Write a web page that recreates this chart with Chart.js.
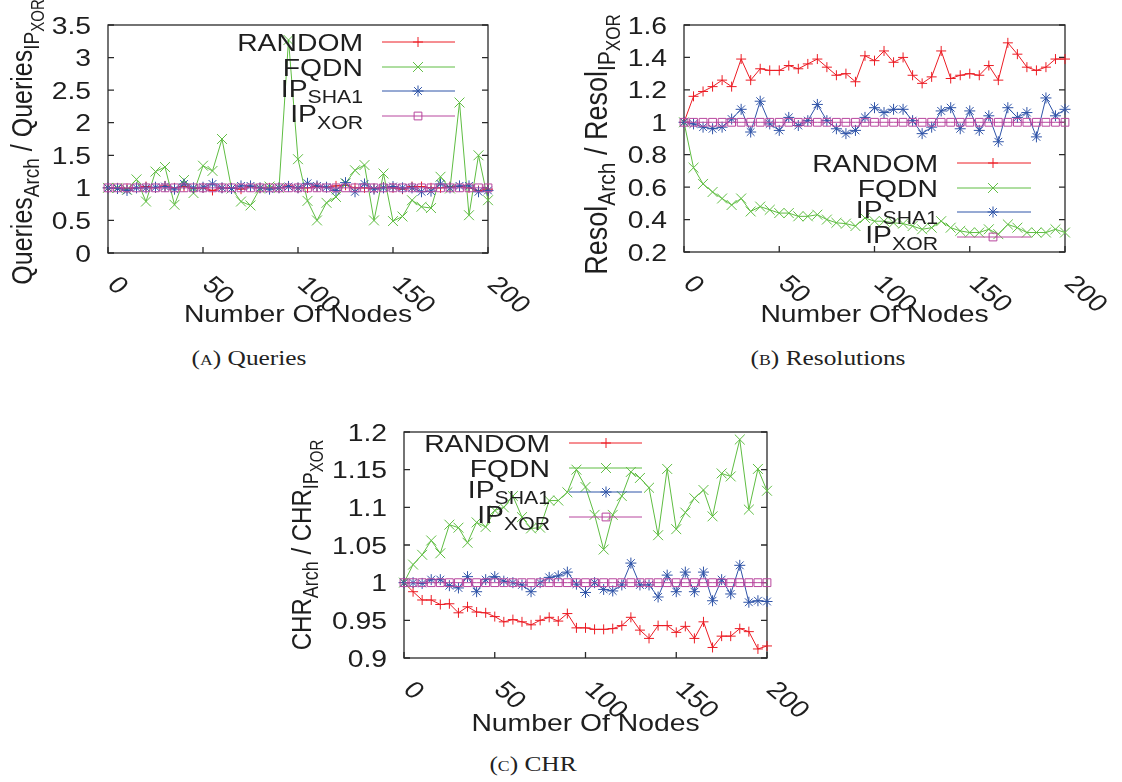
<!DOCTYPE html>
<html>
<head>
<meta charset="utf-8">
<script src="https://cdn.jsdelivr.net/npm/chart.js@4.4.0/dist/chart.umd.min.js"></script>
<style>
  body { margin: 0; background: #fff; width: 1122px; height: 782px; position: relative; overflow: hidden; }
  canvas { position: absolute; }
  .cap { position: absolute; font-family: "Liberation Serif", serif; font-size: 21.5px; line-height: 21.5px;
         color: #222; white-space: nowrap; transform: translateX(-50%) scaleX(1.18); }
  .sc { font-variant: small-caps; }
</style>
</head>
<body>
<canvas id="chartA" width="560" height="345" style="left:0px;top:0px"></canvas>
<canvas id="chartB" width="562" height="345" style="left:560px;top:0px"></canvas>
<canvas id="chartC" width="560" height="345" style="left:280px;top:400px"></canvas>
<div class="cap" style="left:249px;top:348px">(<span class="sc">a</span>) Queries</div>
<div class="cap" style="left:828px;top:348px">(<span class="sc">b</span>) Resolutions</div>
<div class="cap" style="left:533px;top:754px">(<span class="sc">c</span>) CHR</div>
<script>
// x values: number of nodes
const nodes = [0, 5, 10, 15, 20, 25, 30, 35, 40, 45, 50, 55, 60, 65, 70, 75, 80, 85, 90, 95, 100,
  105, 110, 115, 120, 125, 130, 135, 140, 145, 150, 155, 160, 165, 170, 175, 180, 185, 190, 195, 200];
const xTickLabels = ['0', '50', '100', '150', '200'];

// (a) Queries
const queriesRandom = [1, 1.0, 0.99, 1.0, 1.02, 1.0, 1.03, 1.0, 1.02, 0.99, 1.0, 0.96, 1.0, 1.0, 0.98, 1.02, 1.0, 1.0, 1.0, 1.03,
  1.0, 1.0, 1.02, 1.01, 1.03, 1.04, 1.0, 1.0, 0.99, 1.01, 1.0, 0.98, 1.02, 1.02, 1.0, 1.0, 1.02, 1.02, 1.0, 0.96, 0.98];
const queriesFqdn = [1.0, 1.0, 0.97, 1.13, 0.79, 1.25, 1.32, 0.74, 1.12, 0.92, 1.34, 1.26, 1.75, 0.99, 0.79, 0.73, 0.99, 1.02, 1.0, 3.27,
  1.44, 0.8, 0.5, 0.77, 0.86, 1.07, 1.27, 1.35, 0.5, 1.22, 0.49, 0.56, 0.81, 0.71, 0.69, 1.17, 0.99, 2.31, 0.58, 1.5, 0.81];
const queriesSha1 = [1, 0.99, 0.96, 1.0, 1.0, 1.01, 1.02, 0.98, 1.06, 1.0, 1.01, 1.06, 1.0, 0.99, 1.03, 1.03, 1.0, 0.98, 1.0, 1.02,
  1.0, 1.07, 1.03, 1.01, 0.96, 1.08, 0.94, 1.06, 0.98, 1.0, 1.02, 1.0, 1.0, 0.94, 0.95, 1.06, 1.0, 1.03, 1.03, 0.94, 0.96];
const queriesXor = [1, 1, 1, 1, 1, 1, 1, 1, 1, 1, 1, 1, 1, 1, 1, 1, 1, 1, 1, 1, 1,
  1, 1, 1, 1, 1, 1, 1, 1, 1, 1, 1, 1, 1, 1, 1, 1, 1, 1, 1, 1];
const queriesYTicks = ['0', '0.5', '1', '1.5', '2', '2.5', '3', '3.5'];

// (b) Resolutions
const resolRandom = [1.0, 1.16, 1.19, 1.22, 1.26, 1.22, 1.39, 1.26, 1.33, 1.32, 1.32, 1.35, 1.33, 1.36, 1.39, 1.34, 1.29, 1.30, 1.25, 1.41,
  1.38, 1.44, 1.37, 1.40, 1.29, 1.24, 1.28, 1.44, 1.27, 1.29, 1.30, 1.29, 1.35, 1.26, 1.49, 1.42, 1.34, 1.32, 1.34, 1.39, 1.39];
const resolFqdn = [1.0, 0.72, 0.62, 0.57, 0.53, 0.49, 0.53, 0.45, 0.48, 0.46, 0.44, 0.44, 0.42, 0.42, 0.43, 0.40, 0.38, 0.375, 0.36, 0.41,
  0.39, 0.39, 0.38, 0.375, 0.36, 0.34, 0.35, 0.39, 0.35, 0.33, 0.32, 0.32, 0.34, 0.31, 0.37, 0.35, 0.32, 0.32, 0.32, 0.34, 0.32];
const resolSha1 = [1.0, 0.99, 0.97, 0.96, 0.97, 1.02, 1.08, 0.94, 1.13, 0.99, 0.95, 1.03, 0.98, 1.01, 1.11, 1.01, 0.96, 0.93, 0.95, 1.03,
  1.09, 1.06, 1.08, 1.08, 1.01, 0.93, 0.97, 1.07, 1.09, 0.96, 1.07, 0.95, 1.04, 0.88, 1.09, 1.03, 1.06, 0.91, 1.15, 1.04, 1.08];
const resolXor = [1, 1, 1, 1, 1, 1, 1, 1, 1, 1, 1, 1, 1, 1, 1, 1, 1, 1, 1, 1, 1,
  1, 1, 1, 1, 1, 1, 1, 1, 1, 1, 1, 1, 1, 1, 1, 1, 1, 1, 1, 1];
const resolYTicks = ['0.2', '0.4', '0.6', '0.8', '1', '1.2', '1.4', '1.6'];

// (c) CHR
const chrRandom = [1.0, 0.988, 0.977, 0.977, 0.971, 0.972, 0.960, 0.968, 0.961, 0.960, 0.955, 0.948, 0.951, 0.948, 0.944, 0.950, 0.954, 0.949, 0.959, 0.940,
  0.940, 0.938, 0.938, 0.939, 0.943, 0.954, 0.937, 0.926, 0.943, 0.943, 0.934, 0.942, 0.926, 0.948, 0.914, 0.929, 0.929, 0.939, 0.935, 0.912, 0.916];
const chrFqdn = [1.0, 1.024, 1.037, 1.056, 1.039, 1.077, 1.073, 1.053, 1.080, 1.074, 1.096, 1.10, 1.115, 1.087, 1.072, 1.073, 1.109, 1.109, 1.12, 1.15,
  1.127, 1.09, 1.044, 1.09, 1.115, 1.147, 1.139, 1.126, 1.063, 1.151, 1.071, 1.093, 1.112, 1.123, 1.088, 1.145, 1.141, 1.19, 1.097, 1.151, 1.122];
const chrSha1 = [1.0, 1.0, 0.999, 1.004, 1.004, 0.996, 0.993, 1.008, 0.988, 1.004, 1.008, 1.002, 1.0, 0.997, 0.988, 1.0, 1.007, 1.009, 1.014, 0.998,
  0.987, 1.0, 0.991, 0.989, 0.997, 1.026, 0.997, 0.997, 0.981, 1.01, 0.988, 1.014, 0.988, 1.014, 0.976, 1.004, 0.985, 1.023, 0.974, 0.976, 0.975];
const chrXor = [1, 1, 1, 1, 1, 1, 1, 1, 1, 1, 1, 1, 1, 1, 1, 1, 1, 1, 1, 1, 1,
  1, 1, 1, 1, 1, 1, 1, 1, 1, 1, 1, 1, 1, 1, 1, 1, 1, 1, 1, 1];
const chrYTicks = ['0.9', '0.95', '1', '1.05', '1.1', '1.15', '1.2'];

const FONT = '"Liberation Sans", Arial, sans-serif';
const SX = 1.18;        // the figure is a bit stretched sideways
const INK = '#1e1e1e';

// gnuplot-like styles: line colour, point style, point radius
const styles = [
  { name: [['RANDOM', 24, 0]], color: '#ec1c24', point: 'cross', r: 5, order: 3 },
  { name: [['FQDN', 24, 0]], color: '#5fbd42', point: 'crossRot', r: 7, order: 2 },
  { name: [['IP', 24, 0], ['SHA1', 18, 6]], color: '#2f54a8', point: 'star', r: 5.5, order: 1 },
  { name: [['IP', 24, 0], ['XOR', 18, 6.5]], color: '#b8469e', point: 'rect', r: 5.5, order: 0 }
];

function rich(ctx, x, y, segs, align, angle) {
  ctx.save();
  ctx.translate(x, y);
  ctx.scale(SX, 1);
  if (angle) ctx.rotate(angle);
  ctx.fillStyle = INK;
  ctx.textBaseline = 'alphabetic';
  ctx.textAlign = 'left';
  let total = 0;
  const ws = segs.map(s => {
    ctx.font = s[1] + 'px ' + FONT;
    const w = ctx.measureText(s[0]).width;
    total += w;
    return w;
  });
  let u = align === 'right' ? -total : align === 'center' ? -total / 2 : 0;
  segs.forEach((s, i) => {
    ctx.font = s[1] + 'px ' + FONT;
    ctx.fillText(s[0], u, s[2]);
    u += ws[i];
  });
  ctx.restore();
}

function marker(ctx, style, x, y, r) {
  ctx.beginPath();
  if (style === 'cross' || style === 'star') {
    ctx.moveTo(x - r, y); ctx.lineTo(x + r, y);
    ctx.moveTo(x, y - r); ctx.lineTo(x, y + r);
  }
  if (style === 'crossRot' || style === 'star') {
    const d = r * Math.SQRT1_2;
    ctx.moveTo(x - d, y - d); ctx.lineTo(x + d, y + d);
    ctx.moveTo(x - d, y + d); ctx.lineTo(x + d, y - d);
  }
  if (style === 'rect') {
    const d = r * Math.SQRT1_2;
    ctx.rect(x - d, y - d, 2 * d, 2 * d);
  }
  ctx.stroke();
}

// frame, inward ticks, tick labels and titles, drawn from the chart's scales
const gnuFrame = {
  id: 'gnuFrame',
  beforeDatasetsDraw(chart, args, o) {
    const { ctx, chartArea: a, scales: { x, y } } = chart;
    ctx.save();
    ctx.strokeStyle = '#2a2a2a';
    ctx.lineWidth = 1.3;
    ctx.strokeRect(a.left, a.top, a.right - a.left, a.bottom - a.top);
    ctx.beginPath();
    y.ticks.forEach(t => {
      const py = y.getPixelForValue(t.value);
      ctx.moveTo(a.left, py); ctx.lineTo(a.left + 6, py);
      ctx.moveTo(a.right, py); ctx.lineTo(a.right - 6, py);
    });
    x.ticks.forEach(t => {
      const px = x.getPixelForValue(t.value);
      ctx.moveTo(px, a.bottom); ctx.lineTo(px, a.bottom - 6);
    });
    ctx.stroke();
    ctx.restore();

    y.ticks.forEach(t => {
      const lab = o.yLabels.find(l => Math.abs(parseFloat(l) - t.value) < 1e-6);
      if (lab !== undefined) rich(ctx, a.left - 17, y.getPixelForValue(t.value) + 8.5, [[lab, 24, 0]], 'right');
    });
    x.ticks.forEach(t => {
      const lab = xTickLabels.find(l => Math.abs(parseFloat(l) - t.value) < 1e-6);
      if (lab !== undefined) rich(ctx, x.getPixelForValue(t.value) + 5, a.bottom + 27, [[lab, 24, 8.5]], 'left', Math.PI / 4);
    });
    rich(ctx, (a.left + a.right) / 2, a.bottom + o.xTitleDy, [['Number Of Nodes', 24, 0]], 'center');
    rich(ctx, o.yTitleX, (a.top + a.bottom) / 2 + o.yTitleDy, o.yTitle, 'center', -Math.PI / 2);
  },
  afterDatasetsDraw(chart, args, o) {
    const ctx = chart.ctx;
    const L = o.legend;
    styles.forEach((s, i) => {
      const ry = L.rows[i];
      const sub = s.name.length > 1;
      rich(ctx, L.textEnd, ry + (sub ? 6 : 9), s.name, 'right');
      ctx.save();
      ctx.strokeStyle = s.color;
      ctx.lineWidth = 1;
      ctx.beginPath();
      ctx.moveTo(L.x1, ry); ctx.lineTo(L.x2, ry);
      ctx.stroke();
      marker(ctx, s.point, L.xm, ry, s.r);
      ctx.restore();
    });
  }
};

function makeChart(id, series, yMin, yMax, yStep, yLabels, box, extra) {
  const datasets = series.map((vals, i) => ({
    data: nodes.map((n, k) => ({ x: n, y: vals[k] })),
    borderColor: styles[i].color,
    backgroundColor: 'rgba(0,0,0,0)',
    borderWidth: 1,
    pointStyle: styles[i].point,
    pointRadius: styles[i].r,
    pointBorderWidth: 1,
    pointBorderColor: styles[i].color,
    pointBackgroundColor: 'rgba(0,0,0,0)',
    order: styles[i].order,
    clip: false
  }));
  return new Chart(document.getElementById(id), {
    type: 'line',
    data: { datasets },
    options: {
      responsive: false,
      animation: false,
      devicePixelRatio: 1,
      events: [],
      layout: { padding: { left: 0, top: box.top, right: box.right, bottom: 0 } },
      scales: {
        x: {
          type: 'linear', min: 0, max: 200,
          ticks: { stepSize: 50, display: false },
          grid: { display: false }, border: { display: false },
          afterFit: s => { s.height = box.xh; }
        },
        y: {
          type: 'linear', min: yMin, max: yMax,
          ticks: { stepSize: yStep, display: false },
          grid: { display: false }, border: { display: false },
          afterFit: s => { s.width = box.left; }
        }
      },
      plugins: {
        legend: { display: false },
        tooltip: { enabled: false },
        gnuFrame: Object.assign({ yLabels }, extra)
      }
    },
    plugins: [gnuFrame]
  });
}

makeChart('chartA', [queriesRandom, queriesFqdn, queriesSha1, queriesXor], 0, 3.5, 0.5, queriesYTicks,
  { left: 108, right: 72, top: 25, xh: 92 },
  {
    xTitleDy: 69, yTitleX: 32, yTitleDy: 3,
    yTitle: [['Queries', 25, 0], ['Arch', 19, 6], [' / Queries', 25, 0], ['IP', 19, 6], ['XOR', 15, 10]],
    legend: { textEnd: 363, x1: 382, x2: 455, xm: 418, rows: [42, 67, 91, 116] }
  });

makeChart('chartB', [resolRandom, resolFqdn, resolSha1, resolXor], 0.2, 1.6, 0.2, resolYTicks,
  { left: 124, right: 57, top: 25, xh: 93 },
  {
    xTitleDy: 70, yTitleX: 47, yTitleDy: 6,
    yTitle: [['Resol', 27, 0], ['Arch', 21, 7], [' / Resol', 27, 0], ['IP', 21, 7], ['XOR', 17, 11]],
    legend: { textEnd: 378, x1: 397, x2: 471, xm: 433, rows: [163, 188, 212, 237] }
  });

makeChart('chartC', [chrRandom, chrFqdn, chrSha1, chrXor], 0.9, 1.2, 0.05, chrYTicks,
  { left: 124, right: 73, top: 32, xh: 87 },
  {
    xTitleDy: 73, yTitleX: 31, yTitleDy: 0,
    yTitle: [['CHR', 24, 0], ['Arch', 18, 6], [' / CHR', 24, 0], ['IP', 18, 6], ['XOR', 15, 10]],
    legend: { textEnd: 270, x1: 289, x2: 362, xm: 326, rows: [43, 68, 92, 117] }
  });
</script>
</body>
</html>
